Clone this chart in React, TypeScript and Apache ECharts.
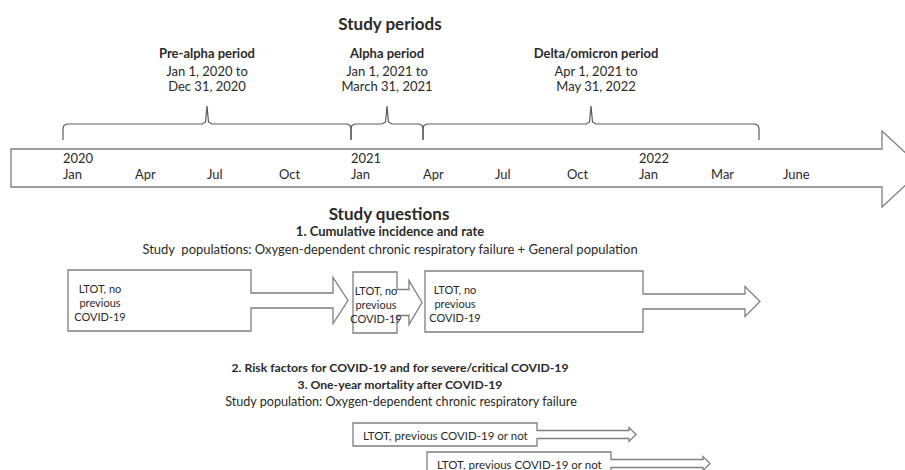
import React, { useEffect, useRef } from "react";
import * as echarts from "echarts";

// ---------- data ----------
const quarterMonths = [0, 3, 6, 9, 12, 15, 18, 21, 24, 27, 30];
const monthLabels = ["Jan", "Apr", "Jul", "Oct", "Jan", "Apr", "Jul", "Oct", "Jan", "Mar", "June"];
const yearMonths = [0, 12, 24];
const yearLabels = ["2020", "2021", "2022"];

const periodNames = ["Pre-alpha period", "Alpha period", "Delta/omicron period"];
const periodStart = [0, 12, 15]; // months since Jan 1, 2020
const periodEnd = [12, 15, 29];
const periodFrom = ["Jan 1, 2020 to", "Jan 1, 2021 to", "Apr 1, 2021 to"];
const periodTo = ["Dec 31, 2020", "March 31, 2021", "May 31, 2022"];

const cohortLines = ["LTOT, no", "previous", "COVID-19"];

const followStart = [12, 15];
const followEnd = [24, 27];
const followLabel = "LTOT, previous COVID-19 or not";

const headingTexts = [
  "Study periods",
  "Study questions",
  "1. Cumulative incidence and rate",
  "Study  populations: Oxygen-dependent chronic respiratory failure + General population",
  "2. Risk factors for COVID-19 and for severe/critical COVID-19",
  "3. One-year mortality after COVID-19",
  "Study population: Oxygen-dependent chronic respiratory failure",
];

// ---------- layout / style ----------
const headingLayout = [
  { y: 23, size: 17, bold: true, cx: 390 },
  { y: 213, size: 17, bold: true, cx: 389 },
  { y: 231, size: 13, bold: true, cx: 390 },
  { y: 249, size: 13, bold: false, cx: 390 },
  { y: 367, size: 12.2, bold: true, cx: 400 },
  { y: 384, size: 12.2, bold: true, cx: 400 },
  { y: 401, size: 12.6, bold: false, cx: 401 },
];
const W = 905;
const H = 470;
const PX_PER_MONTH = 24;
const X_ORIGIN = 63; // pixel of Jan 2020
const FONT = "Lato, 'Noto Sans', sans-serif";
const TXT = "#2a2a2a";
const LINE = "#7f7f7f";
const BRACE = "#5a5a5a";

const cohortLayout = [
  { inset: 5, width: 183, top: 270, bottom: 331, shaft: 7.5, head: 23, headLen: 15, tipDx: -3, textDx: 32 },
  { inset: 2, width: 44, top: 272, bottom: 333, shaft: 13, head: 22, headLen: 13, tipDx: -1, textDx: 23 },
  { inset: 2, width: 218, top: 271, bottom: 332, shaft: 7.5, head: 15, headLen: 15, tipDx: 1, textDx: 30 },
];
const followLayout = [
  { inset: 2, width: 184, top: 423, bottom: 446, shaft: 4, head: 7, headLen: 7, tipDx: -3 },
  { inset: 4, width: 184, top: 452, bottom: 475, shaft: 4, head: 7, headLen: 7, tipDx: -1 },
];

function text(x: number, y: number, s: string, size: number, bold = false, align = "center") {
  return {
    type: "text",
    x,
    y,
    style: {
      text: s,
      fill: TXT,
      fontSize: size,
      fontFamily: FONT,
      fontWeight: bold ? "bold" : "normal",
      align,
      verticalAlign: "middle",
    },
  };
}

function blockArrow(xl: number, xr: number, xt: number, L: any) {
  const cy = (L.top + L.bottom) / 2;
  const hb = xt - L.headLen;
  return {
    type: "polygon",
    shape: {
      points: [
        [xl, L.top],
        [xr, L.top],
        [xr, cy - L.shaft],
        [hb, cy - L.shaft],
        [hb, cy - L.head],
        [xt, cy],
        [hb, cy + L.head],
        [hb, cy + L.shaft],
        [xr, cy + L.shaft],
        [xr, L.bottom],
        [xl, L.bottom],
      ],
    },
    style: { fill: "#ffffff", stroke: LINE, lineWidth: 1.3 },
  };
}

export default function App() {
  const ref = useRef<HTMLDivElement>(null);
  useEffect(() => {
    if (!ref.current) return;
    const chart = echarts.init(ref.current, undefined, { renderer: "svg" });
    const xMin = -X_ORIGIN / PX_PER_MONTH;
    const xMax = (W - X_ORIGIN) / PX_PER_MONTH;

    const option: any = {
      animation: false,
      backgroundColor: "#ffffff",
      grid: { left: 0, right: 0, top: 0, bottom: 0 },
      xAxis: { type: "value", min: xMin, max: xMax, show: false },
      yAxis: { type: "value", min: 0, max: H, inverse: true, show: false },
      graphic: headingTexts.map((t, i) => {
        const h = headingLayout[i];
        return { ...text(h.cx, h.y, t, h.size, h.bold), z: 100 };
      }),
      series: [
        // timeline arrow
        {
          type: "custom",
          clip: false,
          data: [[quarterMonths[0], quarterMonths[quarterMonths.length - 1]]],
          renderItem: (params: any, api: any) => {
            const c = (m: number, y: number) => api.coord([m, y]);
            const [xl] = c(-2.167, 0);
            const [xs] = c(34.125, 0);
            const [xt] = c(35.83, 0);
            return {
              type: "polygon",
              shape: {
                points: [
                  [xl, 149],
                  [xs, 149],
                  [xs, 131],
                  [xt, 169],
                  [xs, 207],
                  [xs, 187],
                  [xl, 187],
                ],
              },
              style: { fill: "#ffffff", stroke: LINE, lineWidth: 1.3 },
            };
          },
        },
        // month labels
        {
          type: "custom",
          clip: false,
          data: quarterMonths.map((m) => [m]),
          renderItem: (params: any, api: any) => {
            const [x, y] = api.coord([api.value(0), 174]);
            return text(x, y, monthLabels[params.dataIndex], 13, false, "left");
          },
        },
        // year labels
        {
          type: "custom",
          clip: false,
          data: yearMonths.map((m) => [m]),
          renderItem: (params: any, api: any) => {
            const [x, y] = api.coord([api.value(0), 158]);
            return text(x, y, yearLabels[params.dataIndex], 13, false, "left");
          },
        },
        // period braces + texts
        {
          type: "custom",
          clip: false,
          data: periodStart.map((s, i) => [s, periodEnd[i]]),
          renderItem: (params: any, api: any) => {
            const s = api.value(0);
            const e = api.value(1);
            const i = params.dataIndex;
            const [xs] = api.coord([s, 0]);
            const [xe] = api.coord([e, 0]);
            const [xm] = api.coord([(s + e) / 2, 0]);
            const yh = 124;
            const brace = {
              type: "polyline",
              shape: {
                points: [
                  [xs, 140],
                  [xs, yh + 4],
                  [xs + 1, yh + 1.5],
                  [xs + 4, yh],
                  [xm - 5, yh],
                  [xm - 1.5, yh - 2],
                  [xm, 106],
                  [xm + 1.5, yh - 2],
                  [xm + 5, yh],
                  [xe - 4, yh],
                  [xe - 1, yh + 1.5],
                  [xe, yh + 4],
                  [xe, 140],
                ],
              },
              style: { fill: "none", stroke: BRACE, lineWidth: 1.2 },
            };
            const tx = i === 2 ? xm + 5 : xm;
            return {
              type: "group",
              children: [
                brace,
                text(tx, 53, periodNames[i], 13, true),
                text(tx, 71, periodFrom[i], 13),
                text(tx, 86, periodTo[i], 13),
              ],
            };
          },
        },
        // cohort block arrows (question 1)
        {
          type: "custom",
          clip: false,
          data: periodStart.map((s, i) => [s, periodEnd[i]]),
          renderItem: (params: any, api: any) => {
            const L = cohortLayout[params.dataIndex];
            const [xs] = api.coord([api.value(0), 0]);
            const [xe] = api.coord([api.value(1), 0]);
            const xl = xs + L.inset;
            const xr = xl + L.width;
            const xt = xe + L.tipDx;
            const tx = xl + L.textDx;
            return {
              type: "group",
              children: [
                blockArrow(xl, xr, xt, L),
                ...cohortLines.map((s, k) => text(tx, L.top + 18 + k * 14, s, 11)),
              ],
            };
          },
        },
        // follow-up arrows (questions 2 & 3)
        {
          type: "custom",
          clip: false,
          data: followStart.map((s, i) => [s, followEnd[i]]),
          renderItem: (params: any, api: any) => {
            const L = followLayout[params.dataIndex];
            const [xs] = api.coord([api.value(0), 0]);
            const [xe] = api.coord([api.value(1), 0]);
            const xl = xs + L.inset;
            const xr = xl + L.width;
            const xt = xe + L.tipDx;
            const cy = (L.top + L.bottom) / 2;
            return {
              type: "group",
              children: [blockArrow(xl, xr, xt, L), text(xl + 10, cy + 0.5, followLabel, 11.5, false, "left")],
            };
          },
        },
      ],
    };
    chart.setOption(option);
    return () => chart.dispose();
  }, []);

  return (
    <div
      ref={ref}
      style={{ position: "fixed", left: 0, top: 0, width: W, height: H, background: "#fff" }}
    />
  );
}
